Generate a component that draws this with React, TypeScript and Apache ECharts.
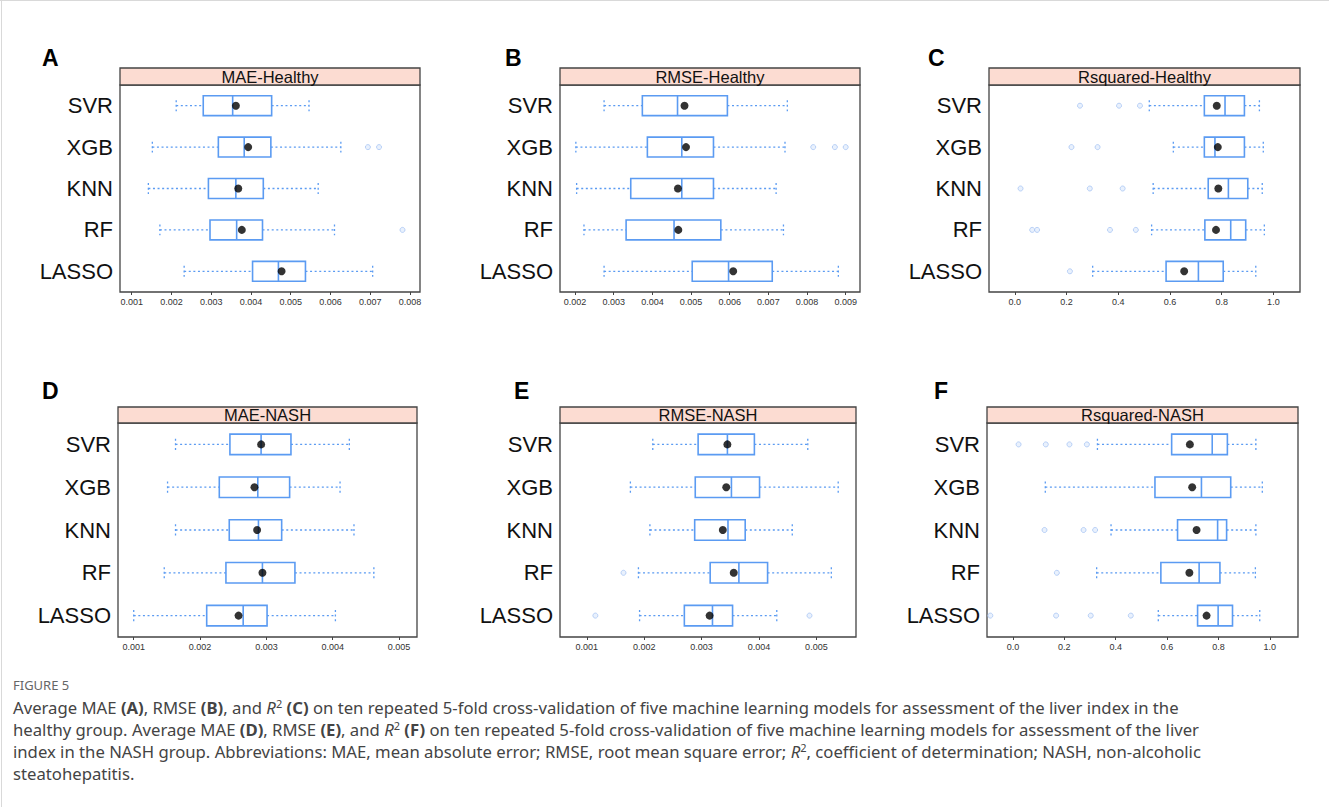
import React, { useEffect, useRef } from "react";
import * as echarts from "echarts";

const models = ["SVR", "XGB", "KNN", "RF", "LASSO"];

// [lower whisker, Q1, median, Q3, upper whisker] per model
const maeHealthyStats = [
  [0.00212, 0.0028, 0.00354, 0.00452, 0.00546],
  [0.00152, 0.00318, 0.00383, 0.0045, 0.00626],
  [0.00142, 0.00293, 0.00362, 0.00431, 0.00569],
  [0.00171, 0.00297, 0.00364, 0.00429, 0.0061],
  [0.00232, 0.00404, 0.00469, 0.00537, 0.00706],
];
const maeHealthyMeans = [0.00362, 0.00393, 0.00368, 0.00377, 0.00477];
const maeHealthyOutliers = [[1, 0.00694], [1, 0.00722], [3, 0.00781]];

const rmseHealthyStats = [
  [0.00275, 0.00374, 0.00465, 0.00594, 0.00749],
  [0.00202, 0.00387, 0.00476, 0.00558, 0.00743],
  [0.00204, 0.00344, 0.00476, 0.00558, 0.0072],
  [0.00223, 0.00332, 0.00456, 0.00577, 0.00739],
  [0.00275, 0.00503, 0.00597, 0.0071, 0.00881],
];
const rmseHealthyMeans = [0.00483, 0.00487, 0.00466, 0.00467, 0.00609];
const rmseHealthyOutliers = [[1, 0.00816], [1, 0.00872], [1, 0.009]];

const r2HealthyStats = [
  [0.52, 0.733, 0.813, 0.888, 0.946],
  [0.613, 0.733, 0.774, 0.888, 0.961],
  [0.535, 0.748, 0.826, 0.901, 0.957],
  [0.529, 0.735, 0.835, 0.893, 0.965],
  [0.301, 0.585, 0.71, 0.806, 0.932],
];
const r2HealthyMeans = [0.781, 0.785, 0.787, 0.778, 0.655];
const r2HealthyOutliers = [
  [0, 0.252], [0, 0.403], [0, 0.484],
  [1, 0.219], [1, 0.32],
  [2, 0.022], [2, 0.29], [2, 0.417],
  [3, 0.067], [3, 0.086], [3, 0.368], [3, 0.468],
  [4, 0.213],
];

const maeNashStats = [
  [0.00163, 0.00245, 0.00292, 0.00337, 0.00425],
  [0.00151, 0.00229, 0.00287, 0.00335, 0.00411],
  [0.00163, 0.00244, 0.00288, 0.00323, 0.00432],
  [0.00146, 0.00239, 0.00294, 0.00343, 0.00462],
  [0.001, 0.0021, 0.00265, 0.00301, 0.00404],
];
const maeNashMeans = [0.00292, 0.00282, 0.00286, 0.00294, 0.00258];
const maeNashOutliers: number[][] = [];

const rmseNashStats = [
  [0.00215, 0.00294, 0.00345, 0.00392, 0.00485],
  [0.00176, 0.00289, 0.00352, 0.00401, 0.00538],
  [0.0021, 0.00288, 0.00346, 0.00376, 0.00458],
  [0.0019, 0.00315, 0.00365, 0.00415, 0.00526],
  [0.00192, 0.0027, 0.00319, 0.00354, 0.00431],
];
const rmseNashMeans = [0.00345, 0.00343, 0.00337, 0.00356, 0.00314];
const rmseNashOutliers = [[3, 0.00164], [4, 0.00115], [4, 0.00488]];

const r2NashStats = [
  [0.329, 0.618, 0.776, 0.835, 0.946],
  [0.126, 0.553, 0.734, 0.848, 0.971],
  [0.382, 0.641, 0.797, 0.832, 0.946],
  [0.326, 0.576, 0.725, 0.806, 0.944],
  [0.566, 0.719, 0.799, 0.855, 0.961],
];
const r2NashMeans = [0.689, 0.698, 0.715, 0.687, 0.754];
const r2NashOutliers = [
  [0, 0.022], [0, 0.128], [0, 0.22], [0, 0.288],
  [2, 0.123], [2, 0.275], [2, 0.32],
  [3, 0.171],
  [4, -0.088], [4, 0.168], [4, 0.303], [4, 0.459],
];

const errTicks1 = [0.001, 0.002, 0.003, 0.004, 0.005, 0.006, 0.007, 0.008];
const errTicks2 = [0.002, 0.003, 0.004, 0.005, 0.006, 0.007, 0.008, 0.009];
const errTicks3 = [0.001, 0.002, 0.003, 0.004, 0.005];
const r2Ticks = [0.0, 0.2, 0.4, 0.6, 0.8, 1.0];

const panelTitles = ["MAE-Healthy", "RMSE-Healthy", "Rsquared-Healthy", "MAE-NASH", "RMSE-NASH", "Rsquared-NASH"];
const panelLetters = ["A", "B", "C", "D", "E", "F"];

const BOX = "#5b9bf2";
const FONT = "'Liberation Sans', Arial, sans-serif";

export default function App() {
  const ref = useRef<HTMLDivElement>(null);
  useEffect(() => {
    if (!ref.current) return;
    const chart = echarts.init(ref.current, null, { renderer: "svg" });

    const panels = [
      { stats: maeHealthyStats, means: maeHealthyMeans, outl: maeHealthyOutliers, ticks: errTicks1, min: 0.000707, max: 0.00825, dec: 3, left: 120, right: 420, top: 85, bottom: 292, strip: 68, lx: 42, ly: 46 },
      { stats: rmseHealthyStats, means: rmseHealthyMeans, outl: rmseHealthyOutliers, ticks: errTicks2, min: 0.00161, max: 0.00937, dec: 3, left: 560, right: 860, top: 85, bottom: 292, strip: 68, lx: 505, ly: 46 },
      { stats: r2HealthyStats, means: r2HealthyMeans, outl: r2HealthyOutliers, ticks: r2Ticks, min: -0.1, max: 1.103, dec: 1, left: 989, right: 1300, top: 85, bottom: 292, strip: 68, lx: 928, ly: 46 },
      { stats: maeNashStats, means: maeNashMeans, outl: maeNashOutliers, ticks: errTicks3, min: 0.000763, max: 0.00527, dec: 3, left: 118, right: 417, top: 423, bottom: 637, strip: 407, lx: 42, ly: 379 },
      { stats: rmseNashStats, means: rmseNashMeans, outl: rmseNashOutliers, ticks: errTicks3, min: 0.000534, max: 0.00569, dec: 3, left: 560, right: 856, top: 423, bottom: 637, strip: 407, lx: 514, ly: 379 },
      { stats: r2NashStats, means: r2NashMeans, outl: r2NashOutliers, ticks: r2Ticks, min: -0.101, max: 1.11, dec: 1, left: 987, right: 1298, top: 423, bottom: 637, strip: 407, lx: 934, ly: 379 },
    ];

    const renderBox = (params: any, api: any) => {
      const c = api.value(0);
      const v = [1, 2, 3, 4, 5].map((i) => api.value(i));
      const p = v.map((x) => api.coord([x, c]));
      const y = p[0][1];
      const band = api.size([0, 1])[1];
      const h = band * 0.48;
      const cap = h * 0.55;
      const dash = { stroke: BOX, lineWidth: 1.3, lineDash: [2, 2.6], fill: null };
      return {
        type: "group",
        children: [
          { type: "line", shape: { x1: p[0][0], y1: y, x2: p[1][0], y2: y }, style: dash },
          { type: "line", shape: { x1: p[3][0], y1: y, x2: p[4][0], y2: y }, style: dash },
          { type: "line", shape: { x1: p[0][0], y1: y - cap / 2, x2: p[0][0], y2: y + cap / 2 }, style: dash },
          { type: "line", shape: { x1: p[4][0], y1: y - cap / 2, x2: p[4][0], y2: y + cap / 2 }, style: dash },
          { type: "rect", shape: { x: p[1][0], y: y - h / 2, width: p[3][0] - p[1][0], height: h }, style: { fill: "#fff", stroke: BOX, lineWidth: 1.6 } },
          { type: "line", shape: { x1: p[2][0], y1: y - h / 2, x2: p[2][0], y2: y + h / 2 }, style: { stroke: BOX, lineWidth: 1.6 } },
        ],
      };
    };

    const grid: any[] = [];
    const xAxis: any[] = [];
    const yAxis: any[] = [];
    const series: any[] = [];
    const graphic: any[] = [];

    panels.forEach((pn, i) => {
      grid.push({
        left: pn.left, top: pn.top, width: pn.right - pn.left, height: pn.bottom - pn.top,
        show: true, borderColor: "#444", borderWidth: 1.3, backgroundColor: "#fff",
        containLabel: false, outerBoundsMode: "none",
      });
      xAxis.push({
        type: "value", gridIndex: i, min: pn.min, max: pn.max,
        axisLine: { show: false },
        splitLine: { show: false },
        axisTick: { show: true, inside: false, length: 3, customValues: pn.ticks, lineStyle: { color: "#444", width: 1 } },
        axisLabel: {
          show: true, customValues: pn.ticks, fontSize: 9, color: "#333", margin: 5, fontFamily: FONT,
          formatter: (val: number) => val.toFixed(pn.dec),
        },
      });
      yAxis.push({
        type: "category", gridIndex: i, data: models, inverse: true,
        axisLine: { show: false }, axisTick: { show: false }, splitLine: { show: false },
        axisLabel: { fontSize: 22, color: "#111", margin: 7, fontFamily: FONT },
      });
      series.push({
        type: "custom", xAxisIndex: i, yAxisIndex: i,
        renderItem: renderBox,
        encode: { x: [1, 2, 3, 4, 5], y: 0 },
        data: pn.stats.map((s, k) => [k, ...s]),
        z: 2,
      });
      series.push({
        type: "scatter", xAxisIndex: i, yAxisIndex: i,
        symbol: "circle", symbolSize: 5,
        itemStyle: { color: "#e3edfd", borderColor: "#a9c6f4", borderWidth: 1 },
        data: pn.outl.map(([k, v]) => [v, k]),
        z: 3,
      });
      series.push({
        type: "scatter", xAxisIndex: i, yAxisIndex: i,
        symbol: "circle", symbolSize: 8,
        itemStyle: { color: "#000" },
        data: pn.means.map((v, k) => [v, k]),
        z: 4,
      });
      graphic.push({
        type: "rect", shape: { x: pn.left, y: pn.strip, width: pn.right - pn.left, height: pn.top - pn.strip },
        style: { fill: "#fcdcd2", stroke: "#444", lineWidth: 1.3 }, z: 10,
      });
      graphic.push({
        type: "text", x: (pn.left + pn.right) / 2, y: (pn.strip + pn.top) / 2,
        style: { text: panelTitles[i], fontSize: 16.5, fontFamily: FONT, fill: "#111", align: "center", verticalAlign: "middle" }, z: 11,
      });
      graphic.push({
        type: "text", x: pn.lx, y: pn.ly,
        style: { text: panelLetters[i], fontSize: 23, fontWeight: "bold", fontFamily: FONT, fill: "#000", align: "left", verticalAlign: "top" }, z: 11,
      });
    });

    const capFont = "'Noto Sans', 'Open Sans', sans-serif";
    const CS = 16.7;
    const rich = {
      b: { fontWeight: "bold", fontSize: CS, fontFamily: capFont, color: "#444" },
      i: { fontStyle: "italic", fontSize: CS, fontFamily: capFont, color: "#444" },
      sup: { fontSize: 11, fontFamily: capFont, color: "#444", verticalAlign: "top", padding: [0, 0, 7, 0] },
    };
    const capLines = [
      "Average MAE {b|(A)}, RMSE {b|(B)}, and {i|R}{sup|2} {b|(C)} on ten repeated 5-fold cross-validation of five machine learning models for assessment of the liver index in the",
      "healthy group. Average MAE {b|(D)}, RMSE {b|(E)}, and {i|R}{sup|2} {b|(F)} on ten repeated 5-fold cross-validation of five machine learning models for assessment of the liver",
      "index in the NASH group. Abbreviations: MAE, mean absolute error; RMSE, root mean square error; {i|R}{sup|2}, coefficient of determination; NASH, non-alcoholic",
      "steatohepatitis.",
    ];
    graphic.push({
      type: "text", x: 13, y: 685,
      style: { text: "FIGURE 5", fontSize: 13, fontFamily: capFont, fill: "#666", verticalAlign: "middle" },
    });
    capLines.forEach((t, k) => {
      graphic.push({
        type: "text", x: 13, y: 707 + k * 22,
        style: { text: t, fontSize: CS, fontFamily: capFont, fill: "#444", verticalAlign: "middle", rich },
      });
    });
    graphic.push({ type: "rect", shape: { x: 0, y: 0, width: 1329, height: 1 }, style: { fill: "#d9d9d9" } });
    graphic.push({ type: "rect", shape: { x: 1, y: 0, width: 1, height: 807 }, style: { fill: "#d9d9d9" } });

    chart.setOption({
      animation: false,
      backgroundColor: "#fff",
      grid, xAxis, yAxis, series, graphic,
    });
    return () => chart.dispose();
  }, []);
  return <div ref={ref} style={{ position: "absolute", left: 0, top: 0, width: 1329, height: 807 }} />;
}
